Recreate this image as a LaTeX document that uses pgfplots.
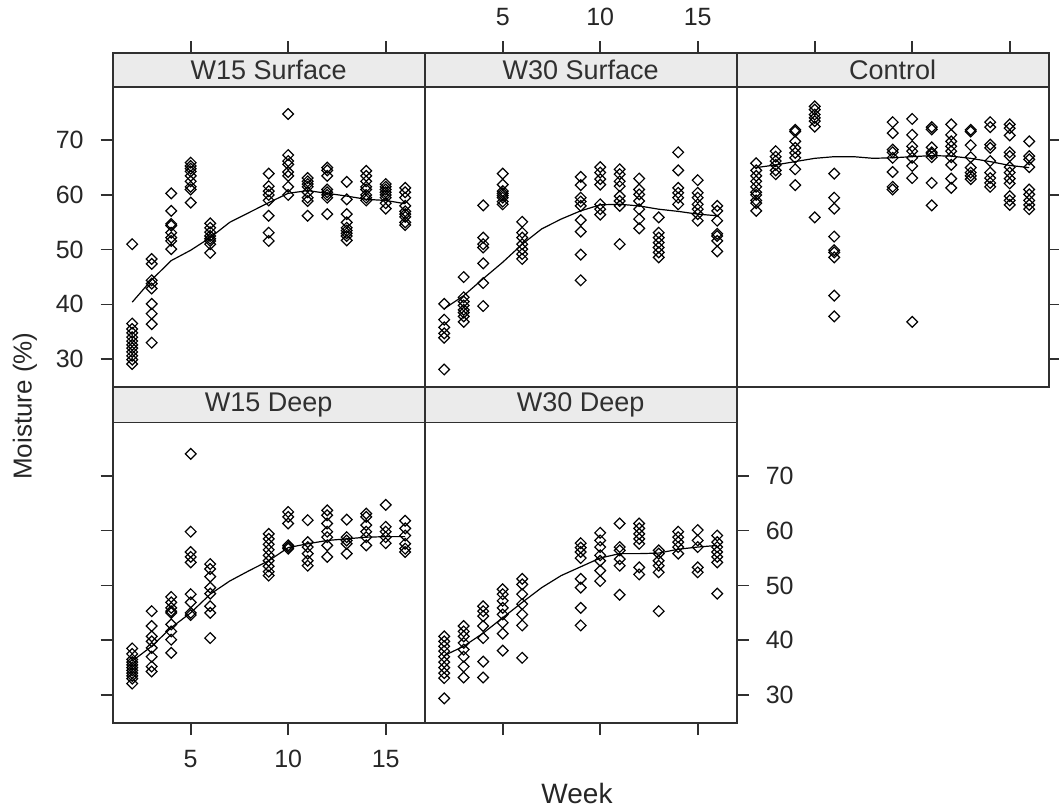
\documentclass[border=0pt]{standalone}
\usepackage{fontspec}
\setmainfont{Liberation Sans}
\usepackage{pgfplots}
\pgfplotsset{compat=1.18}

\definecolor{stripfill}{HTML}{EBEBEB}
\definecolor{frame}{HTML}{303030}

\pgfplotsset{
  panel/.style={
    scale only axis, width=156pt, xmin=1, xmax=17, ymin=24.9,
    xtick={5,10,15}, ytick={30,40,50,60,70},
    tick align=outside, major tick length=6pt,
    axis line style={frame, line width=0.8pt},
    every tick/.style={frame, line width=0.8pt},
    tick label style={font=\fontsize{12.5}{13}\selectfont, text=black!85},
    xticklabel shift=4pt, yticklabel shift=5pt,
    /pgf/number format/assume math mode=true,
    axis on top,
  },
  toprow/.style={panel, height=166.85pt, ymax=85.9},
  botrow/.style={panel, height=168pt, ymax=86.2},
  pts/.style={only marks, mark=square, mark size=1.9pt,
    mark options={rotate=45, line width=0.6pt, black, fill=none}},
  fit/.style={no marks, black, line width=0.6pt},
}
% strip above each panel: #1 = strip top, #2 = title
\newcommand\strip[2]{%
  \fill[stripfill] (axis cs:1,79.7) rectangle (axis cs:17,#1);
  \draw[frame, line width=0.8pt] (axis cs:1,79.7) -- (axis cs:17,79.7);
  \node[font=\fontsize{13.5}{14}\selectfont, text=frame] at (axis cs:9,{(79.7+#1)/2}) {#2};
}

\begin{document}
\begin{tikzpicture}
\useasboundingbox (0,0) rectangle (529.5pt,405pt);

% W15 Surface
\begin{axis}[toprow, at={(56.35pt,378.35pt)}, anchor=north west,
  xtick pos=right, xticklabels={}, ytick pos=left, yticklabel pos=left]
\strip{85.9}{W15 Surface}
\addplot[pts] coordinates {
(2,51.0)(2,36.5)(2,35.5)(2,34.8)(2,34.0)(2,33.3)(2,32.6)(2,32.0)(2,31.3)(2,30.6)(2,29.9)(2,29.1)
(3,48.3)(3,47.4)(3,44.4)(3,43.8)(3,42.9)(3,40.1)(3,38.3)(3,36.4)(3,33.0)
(4,60.3)(4,57.1)(4,54.7)(4,54.4)(4,53.1)(4,52.2)(4,51.6)(4,50.1)
(5,65.9)(5,65.3)(5,64.8)(5,64.3)(5,63.5)(5,62.5)(5,61.5)(5,61.0)(5,58.6)
(6,54.8)(6,54.0)(6,53.2)(6,52.5)(6,52.0)(6,51.6)(6,51.0)(6,49.4)
(9,63.9)(9,61.6)(9,60.7)(9,60.0)(9,59.0)(9,56.2)(9,53.1)(9,51.6)
(10,74.8)(10,67.3)(10,66.2)(10,65.6)(10,64.2)(10,63.5)(10,61.5)(10,60.0)
(11,63.1)(11,62.5)(11,62.0)(11,61.5)(11,60.5)(11,59.5)(11,58.9)(11,56.2)
(12,65.0)(12,64.5)(12,63.5)(12,61.0)(12,60.5)(12,60.0)(12,59.5)(12,56.5)
(13,62.4)(13,59.2)(13,56.5)(13,55.0)(13,54.0)(13,53.5)(13,53.0)(13,52.5)(13,51.7)
(14,64.4)(14,63.5)(14,62.5)(14,61.5)(14,61.0)(14,60.0)(14,59.5)(14,59.0)
(15,62.0)(15,61.5)(15,61.0)(15,60.5)(15,60.0)(15,59.5)(15,58.5)(15,57.5)
(16,61.3)(16,60.5)(16,59.5)(16,58.0)(16,57.0)(16,56.5)(16,56.0)(16,55.0)(16,54.5)
};
\addplot[fit] coordinates {(2,40.4)(3,44.5)(4,48.0)(5,49.9)(6,52.2)(7,55.0)(8,56.8)(9,58.6)(10,60.3)(11,60.8)(12,60.3)(13,59.8)(14,59.2)(15,59.0)(16,58.4)};
\end{axis}

% W30 Surface
\begin{axis}[toprow, at={(212.35pt,378.35pt)}, anchor=north west,
  xtick pos=right, xticklabel pos=right, ytick=\empty]
\strip{85.9}{W30 Surface}
\addplot[pts] coordinates {
(2,40.1)(2,37.2)(2,35.8)(2,34.7)(2,33.9)(2,28.1)
(3,45.0)(3,41.3)(3,40.5)(3,39.8)(3,39.0)(3,38.5)(3,37.8)(3,36.8)
(4,58.1)(4,52.2)(4,51.0)(4,50.4)(4,47.5)(4,43.9)(4,39.7)
(5,63.9)(5,61.9)(5,60.7)(5,60.3)(5,59.9)(5,59.5)(5,58.8)(5,58.3)
(6,55.1)(6,53.1)(6,52.2)(6,51.0)(6,50.1)(6,49.2)(6,48.3)
(9,63.3)(9,61.8)(9,59.5)(9,58.8)(9,58.0)(9,55.4)(9,53.3)(9,49.1)(9,44.4)
(10,65.1)(10,64.1)(10,62.9)(10,61.9)(10,58.3)(10,57.4)(10,56.4)
(11,64.7)(11,63.8)(11,62.5)(11,61.6)(11,59.8)(11,58.9)(11,58.0)(11,51.0)
(12,63.0)(12,61.0)(12,60.1)(12,58.9)(12,57.4)(12,55.6)(12,53.9)
(13,55.9)(13,53.1)(13,52.2)(13,51.3)(13,50.4)(13,49.5)(13,48.6)
(14,67.8)(14,64.5)(14,61.3)(14,60.4)(14,59.5)(14,58.3)
(15,62.7)(15,60.4)(15,59.5)(15,58.3)(15,57.4)(15,56.5)(15,55.3)
(16,58.0)(16,57.1)(16,55.3)(16,52.9)(16,52.5)(16,51.6)(16,49.7)
};
\addplot[fit] coordinates {(2,39.2)(3,41.6)(4,44.7)(5,47.7)(6,51.0)(7,53.8)(8,55.6)(9,57.1)(10,58.2)(11,58.3)(12,58.0)(13,57.4)(14,57.0)(15,56.5)(16,56.2)};
\end{axis}

% Control
\begin{axis}[toprow, at={(368.35pt,378.35pt)}, anchor=north west,
  xtick pos=right, xticklabels={}, ytick pos=right, yticklabels={}]
\strip{85.9}{Control}
\addplot[pts] coordinates {
(2,65.8)(2,64.5)(2,63.5)(2,62.5)(2,61.5)(2,60.5)(2,60.0)(2,59.0)(2,58.5)(2,57.1)
(3,68.0)(3,67.0)(3,66.2)(3,65.5)(3,64.5)(3,63.8)
(4,71.9)(4,71.6)(4,69.8)(4,68.6)(4,67.7)(4,66.8)(4,64.7)(4,61.8)
(5,76.2)(5,75.6)(5,74.7)(5,74.1)(5,73.5)(5,72.5)(5,55.9)
(6,63.9)(6,59.5)(6,57.5)(6,52.4)(6,49.9)(6,49.5)(6,48.6)(6,41.6)(6,37.8)
(9,73.3)(9,71.3)(9,68.3)(9,67.8)(9,66.8)(9,64.2)(9,61.5)(9,61.0)
(10,73.9)(10,71.0)(10,68.9)(10,68.0)(10,66.8)(10,65.3)(10,63.1)(10,36.8)
(11,72.4)(11,72.0)(11,68.7)(11,67.8)(11,67.5)(11,66.9)(11,62.2)(11,58.1)
(12,72.9)(12,71.0)(12,69.8)(12,68.9)(12,68.0)(12,66.9)(12,65.5)(12,63.0)(12,61.3)
(13,71.9)(13,71.6)(13,69.1)(13,66.9)(13,65.0)(13,64.1)(13,63.5)(13,62.9)
(14,73.3)(14,72.4)(14,69.2)(14,68.6)(14,66.2)(14,64.1)(14,63.1)(14,62.2)(14,61.5)
(15,72.9)(15,72.2)(15,70.9)(15,67.8)(15,67.1)(15,65.1)(15,64.1)(15,63.0)(15,62.1)(15,59.8)(15,59.0)(15,58.2)
(16,69.8)(16,67.1)(16,66.5)(16,65.1)(16,61.0)(16,60.1)(16,59.0)(16,58.2)(16,57.4)
};
\addplot[fit] coordinates {(2,65.0)(3,65.5)(4,66.1)(5,66.7)(6,67.0)(7,67.0)(8,66.7)(9,66.8)(10,67.0)(11,67.2)(12,67.1)(13,66.7)(14,66.1)(15,65.4)(16,65.0)};
\end{axis}

% W15 Deep
\begin{axis}[botrow, at={(56.35pt,211.5pt)}, anchor=north west,
  xtick pos=left, xticklabel pos=left, ytick pos=left, yticklabels={}]
\strip{86.2}{W15 Deep}
\addplot[pts] coordinates {
(2,38.5)(2,37.5)(2,36.5)(2,36.0)(2,35.5)(2,35.0)(2,34.5)(2,34.0)(2,33.5)(2,33.0)(2,32.1)
(3,45.3)(3,42.6)(3,40.7)(3,39.8)(3,38.6)(3,37.0)(3,35.2)(3,34.3)
(4,47.9)(4,46.9)(4,45.9)(4,45.3)(4,45.0)(4,42.9)(4,41.6)(4,40.1)(4,37.7)
(5,74.0)(5,59.8)(5,56.1)(5,55.2)(5,54.2)(5,48.4)(5,46.9)(5,45.0)(5,44.6)
(6,53.9)(6,53.0)(6,51.6)(6,49.6)(6,48.5)(6,46.2)(6,45.0)(6,40.4)
(9,59.4)(9,58.5)(9,57.5)(9,56.5)(9,55.5)(9,54.5)(9,53.5)(9,52.5)(9,51.8)
(10,63.4)(10,62.5)(10,61.3)(10,57.3)(10,57.0)(10,56.7)
(11,61.9)(11,57.9)(11,57.0)(11,55.8)(11,54.5)(11,53.6)
(12,63.7)(12,62.8)(12,61.3)(12,59.8)(12,58.8)(12,57.3)(12,55.2)
(13,62.0)(13,58.8)(13,58.2)(13,57.6)(13,55.8)
(14,63.1)(14,62.5)(14,61.0)(14,59.8)(14,58.8)(14,57.3)
(15,64.7)(15,60.7)(15,59.8)(15,58.8)(15,57.7)
(16,61.8)(16,60.4)(16,59.1)(16,57.6)(16,56.7)(16,56.1)
};
\addplot[fit] coordinates {(2,36.2)(3,38.9)(4,42.3)(5,45.0)(6,48.4)(7,50.8)(8,52.7)(9,54.5)(10,56.9)(11,57.6)(12,58.2)(13,58.5)(14,58.8)(15,58.9)(16,58.9)};
\end{axis}

% W30 Deep
\begin{axis}[botrow, at={(212.35pt,211.5pt)}, anchor=north west,
  xtick pos=left, xticklabels={}, ytick pos=right, yticklabel pos=right]
\strip{86.2}{W30 Deep}
\addplot[pts] coordinates {
(2,40.7)(2,39.8)(2,38.9)(2,38.0)(2,37.0)(2,36.0)(2,35.0)(2,34.0)(2,33.1)(2,29.4)
(3,42.6)(3,41.6)(3,40.7)(3,39.5)(3,38.3)(3,37.0)(3,35.2)(3,33.2)
(4,46.2)(4,45.3)(4,44.4)(4,42.6)(4,40.4)(4,36.1)(4,33.2)
(5,49.3)(5,48.4)(5,47.2)(5,45.9)(5,44.7)(5,43.2)(5,41.2)(5,38.1)
(6,51.2)(6,50.2)(6,48.4)(6,46.6)(6,44.7)(6,42.7)(6,36.8)
(9,57.7)(9,56.9)(9,56.1)(9,55.0)(9,51.2)(9,49.6)(9,45.9)(9,42.7)
(10,59.6)(10,58.2)(10,57.0)(10,55.5)(10,54.5)(10,52.7)(10,50.8)
(11,61.3)(11,57.0)(11,56.4)(11,54.8)(11,53.6)(11,48.3)
(12,61.3)(12,60.4)(12,59.4)(12,58.5)(12,57.6)(12,53.3)(12,52.0)
(13,56.4)(13,55.8)(13,54.5)(13,53.6)(13,52.4)(13,45.3)
(14,59.8)(14,58.8)(14,57.9)(14,57.0)(14,55.8)
(15,60.1)(15,58.2)(15,57.0)(15,53.3)(15,52.4)
(16,59.1)(16,57.9)(16,57.0)(16,56.1)(16,55.2)(16,54.2)(16,48.5)
};
\addplot[fit] coordinates {(2,37.2)(3,38.9)(4,41.3)(5,44.1)(6,46.9)(7,49.6)(8,51.8)(9,53.4)(10,55.0)(11,55.8)(12,55.8)(13,55.9)(14,56.6)(15,57.0)(16,57.3)};
\end{axis}

\node[rotate=90, font=\fontsize{13}{14}\selectfont, text=black!85] at (12.5pt,202pt) {Moisture (\%)};
\node[font=\fontsize{14}{15}\selectfont, text=black!85] at (288.5pt,8.5pt) {Week};
\end{tikzpicture}
\end{document}
